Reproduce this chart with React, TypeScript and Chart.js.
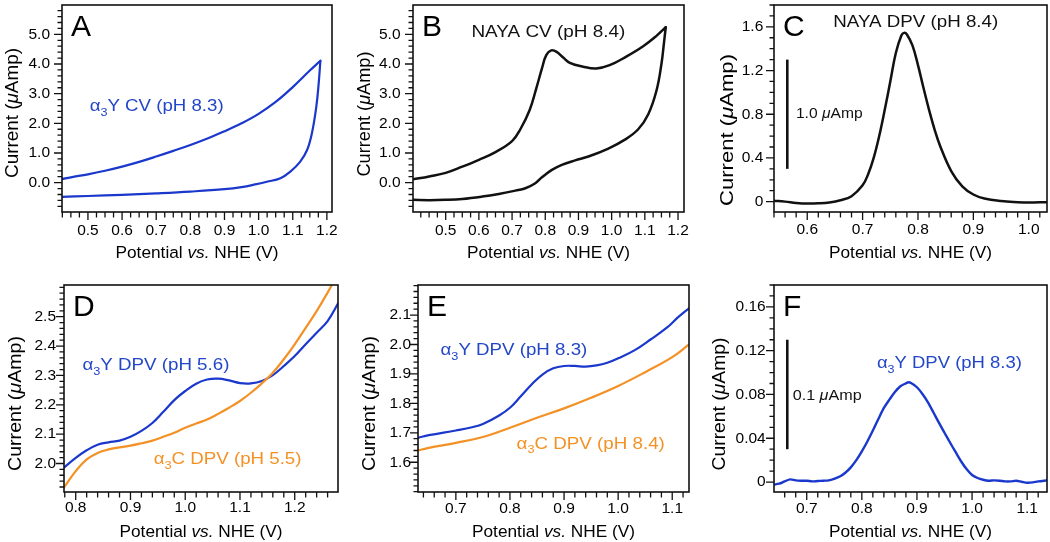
import React, { useEffect, useRef } from 'react';
import { Chart, registerables } from 'chart.js';

Chart.register(...registerables);

// ---------------- DATA ----------------
// Panel A : α3Y CV (pH 8.3)
const A_LOWER_X = [0.424, 0.5, 0.6, 0.7, 0.8, 0.9, 0.95, 0.99, 1.024, 1.064, 1.093, 1.122, 1.142, 1.156, 1.169, 1.176, 1.181];
const A_LOWER_Y = [-0.48, -0.45, -0.41, -0.36, -0.3, -0.22, -0.15, -0.06, 0.03, 0.15, 0.37, 0.71, 1.1, 1.66, 2.56, 3.35, 4.11];
const A_UPPER_X = [0.424, 0.45, 0.5, 0.55, 0.6, 0.65, 0.7, 0.75, 0.8, 0.85, 0.9, 0.95, 1.0, 1.05, 1.1, 1.15, 1.181];
const A_UPPER_Y = [0.12, 0.18, 0.28, 0.4, 0.54, 0.7, 0.88, 1.07, 1.27, 1.49, 1.73, 2.0, 2.32, 2.72, 3.22, 3.78, 4.11];
const A_X_TICKS = [0.5, 0.6, 0.7, 0.8, 0.9, 1.0, 1.1, 1.2];
const A_X_LABELS = ['0.5', '0.6', '0.7', '0.8', '0.9', '1.0', '1.1', '1.2'];
const A_Y_TICKS = [0, 1, 2, 3, 4, 5];
const A_Y_LABELS = ['0.0', '1.0', '2.0', '3.0', '4.0', '5.0'];

// Panel B : NAYA CV (pH 8.4)
const B_UPPER_X = [0.4015, 0.45, 0.5, 0.55, 0.6, 0.65, 0.7, 0.725, 0.753, 0.773, 0.79, 0.803, 0.818, 0.833, 0.854, 0.874, 0.914, 0.954, 0.994, 1.044, 1.095, 1.135, 1.163];
const B_UPPER_Y = [0.11, 0.21, 0.33, 0.54, 0.77, 1.03, 1.4, 1.8, 2.45, 3.18, 3.85, 4.3, 4.46, 4.42, 4.22, 4.04, 3.91, 3.85, 3.96, 4.25, 4.6, 4.95, 5.24];
const B_LOWER_X = [0.4015, 0.45, 0.5, 0.55, 0.61, 0.66, 0.71, 0.74, 0.77, 0.79, 0.82, 0.85, 0.89, 0.93, 0.99, 1.04, 1.08, 1.11, 1.135, 1.15, 1.158, 1.163];
const B_LOWER_Y = [-0.58, -0.59, -0.58, -0.55, -0.47, -0.38, -0.27, -0.19, -0.02, 0.18, 0.43, 0.6, 0.75, 0.88, 1.15, 1.45, 1.8, 2.3, 3.1, 4.0, 4.75, 5.24];
const B_X_TICKS = [0.5, 0.6, 0.7, 0.8, 0.9, 1.0, 1.1, 1.2];
const B_X_LABELS = ['0.5', '0.6', '0.7', '0.8', '0.9', '1.0', '1.1', '1.2'];
const B_Y_TICKS = [0, 1, 2, 3, 4, 5];
const B_Y_LABELS = ['0.0', '1.0', '2.0', '3.0', '4.0', '5.0'];

// Panel C : NAYA DPV (pH 8.4)
const C_X = [0.54, 0.56, 0.58, 0.6, 0.62, 0.64, 0.66, 0.68, 0.7, 0.71, 0.72, 0.73, 0.74, 0.75, 0.76, 0.77, 0.775, 0.78, 0.79, 0.8, 0.81, 0.82, 0.83, 0.84, 0.86, 0.88, 0.9, 0.92, 0.95, 0.98, 1.0, 1.032];
const C_Y = [0.008, 0.0, -0.012, -0.018, -0.016, -0.008, 0.012, 0.05, 0.15, 0.25, 0.4, 0.6, 0.84, 1.1, 1.36, 1.52, 1.545, 1.53, 1.43, 1.25, 1.04, 0.84, 0.66, 0.51, 0.28, 0.14, 0.065, 0.028, 0.005, -0.005, -0.008, -0.005];
const C_X_TICKS = [0.6, 0.7, 0.8, 0.9, 1.0];
const C_X_LABELS = ['0.6', '0.7', '0.8', '0.9', '1.0'];
const C_Y_TICKS = [0, 0.4, 0.8, 1.2, 1.6];
const C_Y_LABELS = ['0', '0.4', '0.8', '1.2', '1.6'];

// Panel D : α3Y DPV (pH 5.6) vs α3C DPV (pH 5.5)
const D_X = [0.778, 0.8, 0.82, 0.84, 0.86, 0.88, 0.9, 0.92, 0.94, 0.96, 0.98, 1.0, 1.02, 1.04, 1.06, 1.08, 1.1, 1.12, 1.14, 1.16, 1.18, 1.2, 1.22, 1.24, 1.26, 1.28];
const D_Y_BLUE = [1.985, 2.019, 2.045, 2.064, 2.072, 2.078, 2.091, 2.111, 2.138, 2.176, 2.216, 2.247, 2.272, 2.286, 2.289, 2.283, 2.274, 2.273, 2.281, 2.301, 2.332, 2.366, 2.406, 2.445, 2.485, 2.548];
const D_Y_ORANGE = [1.917, 1.974, 2.014, 2.036, 2.048, 2.055, 2.061, 2.069, 2.078, 2.091, 2.105, 2.122, 2.136, 2.15, 2.169, 2.19, 2.213, 2.241, 2.273, 2.309, 2.355, 2.406, 2.462, 2.519, 2.582, 2.65];
const D_X_TICKS = [0.8, 0.9, 1.0, 1.1, 1.2];
const D_X_LABELS = ['0.8', '0.9', '1.0', '1.1', '1.2'];
const D_Y_TICKS = [2.0, 2.1, 2.2, 2.3, 2.4, 2.5];
const D_Y_LABELS = ['2.0', '2.1', '2.2', '2.3', '2.4', '2.5'];

// Panel E : α3Y DPV (pH 8.3) vs α3C DPV (pH 8.4)
const E_BLUE_X = [0.63, 0.65, 0.7, 0.73, 0.75, 0.78, 0.8, 0.82, 0.84, 0.86, 0.88, 0.9, 0.92, 0.94, 0.96, 0.98, 1.0, 1.03, 1.06, 1.09, 1.11, 1.131];
const E_BLUE_Y = [1.683, 1.692, 1.708, 1.719, 1.73, 1.759, 1.785, 1.824, 1.864, 1.898, 1.919, 1.927, 1.927, 1.925, 1.929, 1.938, 1.953, 1.98, 2.017, 2.057, 2.091, 2.123];
const E_ORANGE_X = [0.63, 0.65, 0.7, 0.75, 0.8, 0.85, 0.9, 0.95, 1.0, 1.05, 1.1, 1.131];
const E_ORANGE_Y = [1.64, 1.649, 1.666, 1.686, 1.717, 1.751, 1.783, 1.819, 1.859, 1.906, 1.957, 2.0];
const E_X_TICKS = [0.7, 0.8, 0.9, 1.0, 1.1];
const E_X_LABELS = ['0.7', '0.8', '0.9', '1.0', '1.1'];
const E_Y_TICKS = [1.6, 1.7, 1.8, 1.9, 2.0, 2.1];
const E_Y_LABELS = ['1.6', '1.7', '1.8', '1.9', '2.0', '2.1'];

// Panel F : α3Y DPV (pH 8.3), baseline-subtracted
const F_X = [0.64, 0.65, 0.66, 0.67, 0.68, 0.69, 0.7, 0.71, 0.72, 0.73, 0.74, 0.75, 0.76, 0.77, 0.78, 0.79, 0.8, 0.81, 0.82, 0.83, 0.84, 0.85, 0.86, 0.87, 0.88, 0.885, 0.89, 0.9, 0.91, 0.92, 0.93, 0.94, 0.95, 0.96, 0.97, 0.98, 0.99, 1.0, 1.01, 1.02, 1.03, 1.04, 1.05, 1.06, 1.07, 1.08, 1.09, 1.1, 1.11, 1.12, 1.136];
const F_Y = [-0.0024, -0.0015, 0.0006, 0.0024, 0.0015, 0.0012, 0.0012, 0.0006, 0.0009, 0.0012, 0.0015, 0.003, 0.005, 0.0085, 0.0134, 0.02, 0.028, 0.037, 0.047, 0.0576, 0.0677, 0.0753, 0.0823, 0.0875, 0.0902, 0.0911, 0.0902, 0.0866, 0.0805, 0.0728, 0.0635, 0.054, 0.045, 0.0361, 0.0275, 0.019, 0.0118, 0.0064, 0.0037, 0.0021, 0.0012, 0.0015, 0.0012, 0.0006, 0.0006, 0.0012, 0.0003, -0.0006, -0.0003, 0.0006, 0.0015];
const F_X_TICKS = [0.7, 0.8, 0.9, 1.0, 1.1];
const F_X_LABELS = ['0.7', '0.8', '0.9', '1.0', '1.1'];
const F_Y_TICKS = [0, 0.04, 0.08, 0.12, 0.16];
const F_Y_LABELS = ['0', '0.04', '0.08', '0.12', '0.16'];

// Text
const X_TITLE = 'Potential *vs.* NHE (V)';
const Y_TITLE = 'Current (*μ*Amp)';

// ---------------- STYLE / LAYOUT ----------------
const FONT = '"Liberation Sans", Arial, Helvetica, sans-serif';
const BLUE = '#1a38cc';
const BLUE_TEXT = '#2246c8';
const ORANGE = '#f39125';
const BLACK = '#111111';

type Seg = { t: string; italic?: boolean; sub?: boolean };
function parseRich(s: string): Seg[] {
  const segs: Seg[] = [];
  let buf = '';
  let italic = false;
  for (let i = 0; i < s.length; i++) {
    const c = s[i];
    if (c === '*') {
      if (buf) segs.push({ t: buf, italic });
      buf = '';
      italic = !italic;
    } else if (c === '_') {
      if (buf) segs.push({ t: buf, italic });
      buf = '';
      segs.push({ t: s[i + 1], italic, sub: true });
      i++;
    } else buf += c;
  }
  if (buf) segs.push({ t: buf, italic });
  return segs;
}

function drawRich(
  ctx: CanvasRenderingContext2D,
  text: string,
  x: number,
  y: number,
  size: number,
  color: string,
  targetW: number | null,
  align: 'left' | 'center',
  rotate: boolean
) {
  const segs = parseRich(text);
  const fontOf = (s: Seg) => `${s.italic ? 'italic ' : ''}${s.sub ? size * 0.68 : size}px ${FONT}`;
  let total = 0;
  const widths = segs.map((s) => {
    ctx.font = fontOf(s);
    const w = ctx.measureText(s.t).width;
    total += w;
    return w;
  });
  const k = targetW ? targetW / total : 1;
  ctx.save();
  ctx.translate(x, y);
  if (rotate) ctx.rotate(-Math.PI / 2);
  ctx.scale(k, 1);
  ctx.fillStyle = color;
  ctx.textBaseline = 'alphabetic';
  ctx.textAlign = 'left';
  let cx = align === 'center' ? -total / 2 : 0;
  segs.forEach((s, i) => {
    ctx.font = fontOf(s);
    ctx.fillText(s.t, cx, s.sub ? size * 0.3 : 0);
    cx += widths[i];
  });
  ctx.restore();
}

type Series = { xs: number[]; ys: number[]; color: string; width: number; tension?: number };
type Note = { text: string; x: number; y: number; size: number; w: number; color: string };
type Spec = {
  key: string;
  cx: number; cy: number; cw: number; ch: number;
  l: number; t: number; r: number; b: number;
  xMin: number; xMax: number; yMin: number; yMax: number;
  xTicks: number[]; xLabels: string[]; yTicks: number[]; yLabels: string[];
  xMinor: number; yMinor: number;
  xPad: number; yPad: number;
  xTitleOff: number; yTitleOff: number; yTitleCenter: number; yTitleLen: number;
  series: Series[];
  notes: Note[];
  bar?: { x: number; from: number; length: number };
};

const SPECS: Spec[] = [
  {
    key: 'A', cx: 0, cy: 0, cw: 350, ch: 271, l: 62, t: 5, r: 332, b: 212,
    xMin: 0.424, xMax: 1.215, yMin: -0.99, yMax: 5.99,
    xTicks: A_X_TICKS, xLabels: A_X_LABELS, yTicks: A_Y_TICKS, yLabels: A_Y_LABELS,
    xMinor: 0.025, yMinor: 0.2, xPad: 9.5, yPad: 12,
    xTitleOff: 46, yTitleOff: 43.7, yTitleCenter: 113, yTitleLen: 130,
    series: [
      { xs: A_LOWER_X, ys: A_LOWER_Y, color: BLUE, width: 2.2 },
      { xs: A_UPPER_X, ys: A_UPPER_Y, color: BLUE, width: 2.2 },
    ],
    notes: [{ text: 'α_3Y CV (pH 8.3)', x: 0.505, y: 2.42, size: 16, w: 134, color: BLUE_TEXT }],
  },
  {
    key: 'B', cx: 350, cy: 0, cw: 350, ch: 271, l: 413, t: 5, r: 684, b: 212,
    xMin: 0.4015, xMax: 1.218, yMin: -0.99, yMax: 5.99,
    xTicks: B_X_TICKS, xLabels: B_X_LABELS, yTicks: B_Y_TICKS, yLabels: B_Y_LABELS,
    xMinor: 0.025, yMinor: 0.2, xPad: 9.5, yPad: 12.5,
    xTitleOff: 46, yTitleOff: 43, yTitleCenter: 114, yTitleLen: 125,
    series: [
      { xs: B_LOWER_X, ys: B_LOWER_Y, color: BLACK, width: 2.5 },
      { xs: B_UPPER_X, ys: B_UPPER_Y, color: BLACK, width: 2.5 },
    ],
    notes: [{ text: 'NAYA CV (pH 8.4)', x: 0.5774, y: 4.92, size: 16.5, w: 154, color: BLACK }],
  },
  {
    key: 'C', cx: 700, cy: 0, cw: 350, ch: 271, l: 774, t: 5, r: 1047, b: 212,
    xMin: 0.54, xMax: 1.033, yMin: -0.095, yMax: 1.8,
    xTicks: C_X_TICKS, xLabels: C_X_LABELS, yTicks: C_Y_TICKS, yLabels: C_Y_LABELS,
    xMinor: 0.02, yMinor: 0.1, xPad: 8, yPad: 10.7,
    xTitleOff: 45.5, yTitleOff: 40.7, yTitleCenter: 130, yTitleLen: 152,
    series: [{ xs: C_X, ys: C_Y, color: BLACK, width: 2.5 }],
    notes: [
      { text: 'NAYA DPV (pH 8.4)', x: 0.647, y: 1.595, size: 17, w: 165, color: BLACK },
      { text: '1.0 *μ*Amp', x: 0.5796, y: 0.763, size: 15.5, w: 66.7, color: BLACK },
    ],
    bar: { x: 0.564, from: 0.3, length: 1.0 },
  },
  {
    key: 'D', cx: 0, cy: 271, cw: 350, ch: 271, l: 64, t: 285, r: 338, b: 492,
    xMin: 0.7786, xMax: 1.279, yMin: 1.903, yMax: 2.608,
    xTicks: D_X_TICKS, xLabels: D_X_LABELS, yTicks: D_Y_TICKS, yLabels: D_Y_LABELS,
    xMinor: 0.02, yMinor: 0.02, xPad: 6, yPad: 8,
    xTitleOff: 44.5, yTitleOff: 42.6, yTitleCenter: 403.5, yTitleLen: 135,
    series: [
      { xs: D_X, ys: D_Y_ORANGE, color: ORANGE, width: 2.2 },
      { xs: D_X, ys: D_Y_BLUE, color: BLUE, width: 2.2 },
    ],
    notes: [
      { text: 'α_3Y DPV (pH 5.6)', x: 0.8122, y: 2.318, size: 16.5, w: 147, color: BLUE_TEXT },
      { text: 'α_3C DPV (pH 5.5)', x: 0.9425, y: 1.999, size: 16.5, w: 147.7, color: ORANGE },
    ],
  },
  {
    key: 'E', cx: 350, cy: 271, cw: 350, ch: 271, l: 418, t: 285, r: 689, b: 492,
    xMin: 0.63, xMax: 1.131, yMin: 1.499, yMax: 2.202,
    xTicks: E_X_TICKS, xLabels: E_X_LABELS, yTicks: E_Y_TICKS, yLabels: E_Y_LABELS,
    xMinor: 0.02, yMinor: 0.02, xPad: 7.5, yPad: 7,
    xTitleOff: 44.5, yTitleOff: 43.3, yTitleCenter: 403.5, yTitleLen: 135,
    series: [
      { xs: E_ORANGE_X, ys: E_ORANGE_Y, color: ORANGE, width: 2.2 },
      { xs: E_BLUE_X, ys: E_BLUE_Y, color: BLUE, width: 2.2 },
    ],
    notes: [
      { text: 'α_3Y DPV (pH 8.3)', x: 0.6717, y: 1.963, size: 16.5, w: 146.7, color: BLUE_TEXT },
      { text: 'α_3C DPV (pH 8.4)', x: 0.8122, y: 1.6466, size: 16.5, w: 148.3, color: ORANGE },
    ],
  },
  {
    key: 'F', cx: 700, cy: 271, cw: 350, ch: 271, l: 774, t: 285, r: 1047, b: 492,
    xMin: 0.6406, xMax: 1.136, yMin: -0.0091, yMax: 0.18,
    xTicks: F_X_TICKS, xLabels: F_X_LABELS, yTicks: F_Y_TICKS, yLabels: F_Y_LABELS,
    xMinor: 0.02, yMinor: 0.01, xPad: 7.5, yPad: 8.3,
    xTitleOff: 44.5, yTitleOff: 49, yTitleCenter: 404, yTitleLen: 133,
    series: [{ xs: F_X, ys: F_Y, color: BLUE, width: 2.4, tension: 0.3 }],
    notes: [
      { text: 'α_3Y DPV (pH 8.3)', x: 0.8273, y: 0.1042, size: 16.5, w: 145, color: BLUE_TEXT },
      { text: '0.1 *μ*Amp', x: 0.6745, y: 0.0754, size: 15.5, w: 69, color: BLACK },
    ],
    bar: { x: 0.6647, from: 0.03, length: 0.1 },
  },
];

function decorPlugin(spec: Spec) {
  return {
    id: 'decor' + spec.key,
    afterDatasetsDraw(chart: any) {
      const ctx: CanvasRenderingContext2D = chart.ctx;
      const a = chart.chartArea;
      const xs = chart.scales.x;
      const ys = chart.scales.y;
      ctx.save();
      // tick marks
      ctx.strokeStyle = BLACK;
      ctx.lineWidth = 1.3;
      ctx.beginPath();
      const isMajor = (v: number, arr: number[], step: number) => arr.some((t) => Math.abs(t - v) < step / 10);
      for (let k = Math.ceil(spec.xMin / spec.xMinor - 1e-6); k * spec.xMinor <= spec.xMax + 1e-9; k++) {
        const v = k * spec.xMinor;
        const px = xs.getPixelForValue(v);
        const len = isMajor(v, spec.xTicks, spec.xMinor) ? 8 : 5.5;
        ctx.moveTo(px, a.bottom);
        ctx.lineTo(px, a.bottom + len);
      }
      for (let k = Math.ceil(spec.yMin / spec.yMinor - 1e-6); k * spec.yMinor <= spec.yMax + 1e-9; k++) {
        const v = k * spec.yMinor;
        const py = ys.getPixelForValue(v);
        const len = isMajor(v, spec.yTicks, spec.yMinor) ? 8 : 4.5;
        ctx.moveTo(a.left, py);
        ctx.lineTo(a.left - len, py);
      }
      ctx.stroke();
      // frame
      ctx.lineWidth = 1.6;
      ctx.strokeRect(a.left, a.top, a.right - a.left, a.bottom - a.top);
      // scale bar
      if (spec.bar) {
        ctx.lineWidth = 2.6;
        ctx.beginPath();
        const bx = xs.getPixelForValue(spec.bar.x);
        ctx.moveTo(bx, ys.getPixelForValue(spec.bar.from));
        ctx.lineTo(bx, ys.getPixelForValue(spec.bar.from + spec.bar.length));
        ctx.stroke();
      }
      // panel letter
      ctx.fillStyle = '#000';
      ctx.font = `30px ${FONT}`;
      ctx.textBaseline = 'alphabetic';
      ctx.textAlign = 'left';
      ctx.fillText(spec.key, a.left + 9, a.top + 31);
      // annotations
      spec.notes.forEach((n) => {
        drawRich(ctx, n.text, xs.getPixelForValue(n.x), ys.getPixelForValue(n.y), n.size, n.color, n.w, 'left', false);
      });
      // axis titles
      drawRich(ctx, X_TITLE, (a.left + a.right) / 2, a.bottom + spec.xTitleOff, 16.7, '#000', 163, 'center', false);
      drawRich(ctx, Y_TITLE, a.left - spec.yTitleOff, spec.yTitleCenter - spec.cy, 17.5, '#000', spec.yTitleLen, 'center', true);
      ctx.restore();
    },
  };
}

function Panel({ spec }: { spec: Spec }) {
  const ref = useRef<HTMLCanvasElement>(null);
  useEffect(() => {
    const canvas = ref.current;
    if (!canvas) return;
    const tickFont = { family: FONT, size: 15.5 };
    const chart = new Chart(canvas, {
      type: 'line',
      data: {
        datasets: spec.series.map((s) => ({
          data: s.xs.map((x, i) => ({ x, y: s.ys[i] })),
          borderColor: s.color,
          borderWidth: s.width,
          pointRadius: 0,
          fill: false,
          tension: s.tension ?? 0.4,
          borderCapStyle: 'round' as const,
          borderJoinStyle: 'round' as const,
        })),
      },
      options: {
        responsive: false,
        animation: false,
        devicePixelRatio: 1,
        events: [],
        layout: { padding: { top: spec.t - spec.cy, right: spec.cx + spec.cw - spec.r, left: 0, bottom: 0 } },
        plugins: { legend: { display: false }, tooltip: { enabled: false }, title: { display: false } },
        scales: {
          x: {
            type: 'linear',
            min: spec.xMin,
            max: spec.xMax,
            grid: { display: false, drawTicks: false },
            border: { display: false },
            afterBuildTicks: (sc: any) => {
              sc.ticks = spec.xTicks.map((v) => ({ value: v }));
            },
            afterFit: (sc: any) => {
              sc.height = spec.cy + spec.ch - spec.b;
              sc.paddingLeft = 0;
              sc.paddingRight = 0;
            },
            ticks: {
              autoSkip: false,
              maxRotation: 0,
              minRotation: 0,
              padding: spec.xPad,
              color: '#000',
              font: tickFont,
              callback: (_v: any, i: number) => spec.xLabels[i],
            },
          },
          y: {
            type: 'linear',
            min: spec.yMin,
            max: spec.yMax,
            grid: { display: false, drawTicks: false },
            border: { display: false },
            afterBuildTicks: (sc: any) => {
              sc.ticks = spec.yTicks.map((v) => ({ value: v }));
            },
            afterFit: (sc: any) => {
              sc.width = spec.l - spec.cx;
              sc.paddingTop = 0;
              sc.paddingBottom = 0;
            },
            ticks: {
              autoSkip: false,
              padding: spec.yPad,
              color: '#000',
              font: tickFont,
              callback: (_v: any, i: number) => spec.yLabels[i],
            },
          },
        },
      } as any,
      plugins: [decorPlugin(spec)],
    });
    return () => chart.destroy();
  }, [spec]);
  return (
    <canvas
      ref={ref}
      width={spec.cw}
      height={spec.ch}
      style={{ position: 'absolute', left: spec.cx, top: spec.cy, width: spec.cw, height: spec.ch }}
    />
  );
}

export default function App() {
  return (
    <div style={{ position: 'absolute', left: 0, top: 0, width: 1050, height: 542, background: '#fff', overflow: 'hidden' }}>
      {SPECS.map((s) => (
        <Panel key={s.key} spec={s} />
      ))}
    </div>
  );
}
